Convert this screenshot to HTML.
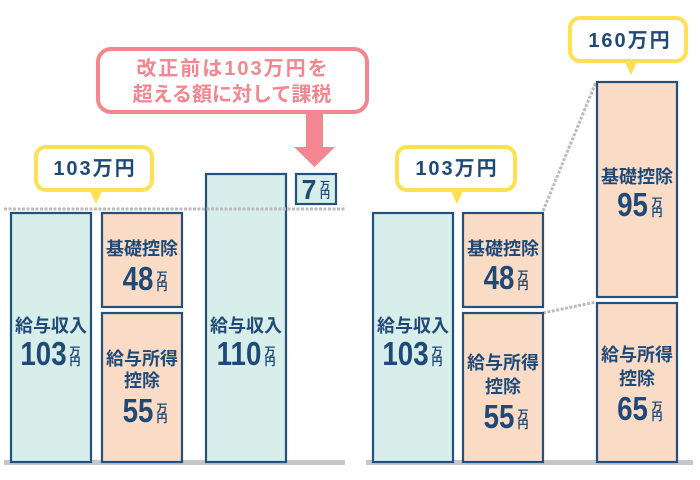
<!DOCTYPE html>
<html><head><meta charset="utf-8"><style>
html,body{margin:0;padding:0;background:#fff;}
svg{display:block;}
text{font-family:"Liberation Sans","Noto Sans CJK JP",sans-serif;font-weight:bold;}
.lbl{font-size:18px;fill:#1f4a78;text-anchor:middle;}
.num{font-size:33px;fill:#1f4a78;text-anchor:middle;}
.un{font-size:11px;fill:#1f4a78;text-anchor:middle;}
.bub{font-size:20px;fill:#1f4a78;text-anchor:middle;letter-spacing:2px;}
.pk{font-size:20px;fill:#f3868f;text-anchor:middle;}
</style></head><body>
<svg width="700" height="480" viewBox="0 0 700 480" xmlns="http://www.w3.org/2000/svg">
<rect width="700" height="480" fill="#fff"/>
<!-- ground -->
<rect x="4" y="460" width="341" height="5" fill="#c6c6c6"/>
<rect x="366" y="460" width="327" height="5" fill="#c6c6c6"/>

<!-- diagonal dotted lines -->
<line x1="543" y1="211" x2="596" y2="82" stroke="#bcbcbc" stroke-width="3" stroke-dasharray="3 1.5"/>
<line x1="543" y1="313" x2="596" y2="302" stroke="#bcbcbc" stroke-width="3" stroke-dasharray="3 1.5"/>

<!-- bars -->
<g stroke="#22507f" stroke-width="2.2">
<rect x="11" y="213" width="80" height="249" fill="#d7eeeb"/>
<rect x="102" y="213" width="80" height="94" fill="#fadbc6"/>
<rect x="102" y="313" width="80" height="149" fill="#fadbc6"/>
<rect x="206" y="174" width="80" height="288" fill="#d7eeeb"/>
<rect x="296" y="174" width="40" height="30" fill="#d7eeeb"/>
<rect x="373" y="213" width="80" height="249" fill="#d7eeeb"/>
<rect x="463" y="213" width="80" height="94" fill="#fadbc6"/>
<rect x="463" y="313" width="80" height="149" fill="#fadbc6"/>
<rect x="597" y="82" width="80" height="215" fill="#fadbc6"/>
<rect x="597" y="303" width="80" height="159" fill="#fadbc6"/>
</g>

<!-- horizontal dotted line -->
<line x1="4" y1="209" x2="345" y2="209" stroke="#bcbcbc" stroke-width="3" stroke-dasharray="3 1.5"/>

<!-- yellow bubbles -->
<g fill="#fff" stroke="#ffe052" stroke-width="4">
<rect x="36" y="147" width="116" height="43" rx="10"/>
<rect x="397" y="147" width="118" height="43" rx="10"/>
<rect x="570" y="18" width="116" height="43" rx="10"/>
</g>
<g fill="#ffe052">
<polygon points="89,189 103,189 96,204"/>
<polygon points="450,189 464,189 457,204"/>
<polygon points="624,60 638,60 631,75"/>
</g>
<text class="bub" x="95" y="175">103万円</text>
<text class="bub" x="457" y="175">103万円</text>
<text class="bub" x="630" y="47">160万円</text>

<!-- pink callout -->
<rect x="98" y="49" width="269" height="63" rx="13" fill="#fff" stroke="#f3868f" stroke-width="4"/>
<rect x="306" y="112" width="17" height="37" fill="#f3868f"/>
<polygon points="294,147 335,147 314.5,167" fill="#f3868f"/>
<text class="pk" x="233" y="75" style="letter-spacing:2px">改正前は103万円を</text>
<text class="pk" x="232" y="101">超える額に対して課税</text>

<!-- 7万円 -->
<text class="num" style="font-size:28px" transform="translate(309,199) scale(0.95,1)">7</text>
<text class="un" style="font-size:10px" x="325" y="189">万</text>
<text class="un" style="font-size:10px" x="325" y="198">円</text>

<!-- A: 給与収入 103 -->
<text class="lbl" x="51" y="332">給与収入</text>
<text class="num" transform="translate(43.5,365) scale(0.84,1)">103</text>
<text class="un" x="75" y="355">万</text><text class="un" x="75" y="365">円</text>

<!-- B top -->
<text class="lbl" x="142" y="255">基礎控除</text>
<text class="num" transform="translate(138,290) scale(0.84,1)">48</text>
<text class="un" x="162" y="280">万</text><text class="un" x="162" y="290">円</text>

<!-- B bottom -->
<text class="lbl" x="142" y="365">給与所得</text>
<text class="lbl" x="142" y="387">控除</text>
<text class="num" transform="translate(138,422) scale(0.84,1)">55</text>
<text class="un" x="162" y="412">万</text><text class="un" x="162" y="422">円</text>

<!-- C: 110 -->
<text class="lbl" x="246" y="332">給与収入</text>
<text class="num" transform="translate(239,365) scale(0.84,1)">110</text>
<text class="un" x="270" y="355">万</text><text class="un" x="270" y="365">円</text>

<!-- D -->
<text class="lbl" x="413" y="332">給与収入</text>
<text class="num" transform="translate(405.5,365) scale(0.84,1)">103</text>
<text class="un" x="437" y="355">万</text><text class="un" x="437" y="365">円</text>

<!-- E top -->
<text class="lbl" x="503" y="255">基礎控除</text>
<text class="num" transform="translate(499,289) scale(0.84,1)">48</text>
<text class="un" x="523" y="279">万</text><text class="un" x="523" y="289">円</text>

<!-- E bottom -->
<text class="lbl" x="503" y="369">給与所得</text>
<text class="lbl" x="503" y="393">控除</text>
<text class="num" transform="translate(499,428) scale(0.84,1)">55</text>
<text class="un" x="523" y="418">万</text><text class="un" x="523" y="428">円</text>

<!-- F top -->
<text class="lbl" x="637" y="183">基礎控除</text>
<text class="num" transform="translate(632.5,216) scale(0.84,1)">95</text>
<text class="un" x="657" y="206">万</text><text class="un" x="657" y="216">円</text>

<!-- F bottom -->
<text class="lbl" x="637" y="361">給与所得</text>
<text class="lbl" x="637" y="385">控除</text>
<text class="num" transform="translate(632.5,420) scale(0.84,1)">65</text>
<text class="un" x="657" y="410">万</text><text class="un" x="657" y="420">円</text>
</svg>
</body></html>
